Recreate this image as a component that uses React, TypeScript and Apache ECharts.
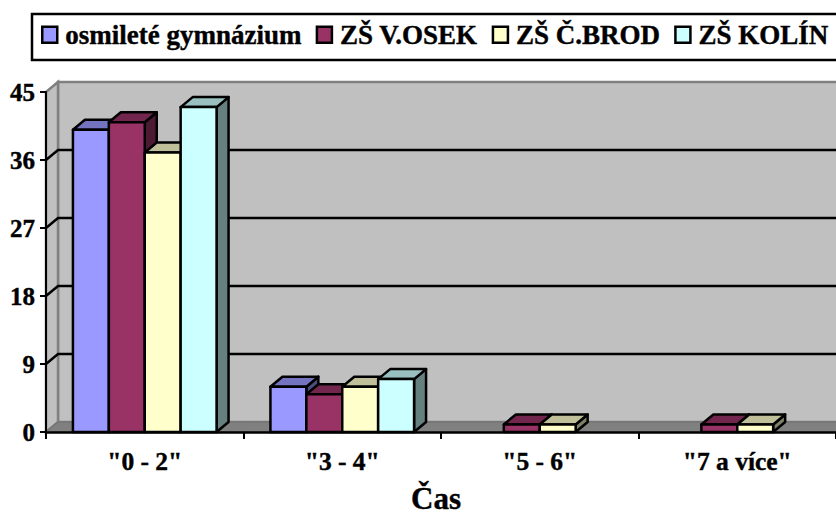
import React, { useEffect, useRef } from "react";
import * as echarts from "echarts";

const categories = ['"0 - 2"', '"3 - 4"', '"5 - 6"', '"7 a více"'];
const seriesNames = ["osmileté gymnázium", "ZŠ V.OSEK", "ZŠ Č.BROD", "ZŠ KOLÍN"];
const gymnazium = [40, 6, 0, 0];
const vosek = [41, 5, 1, 1];
const cbrod = [37, 6, 1, 1];
const kolin = [43, 7, 0, 0];
const seriesValues = [gymnazium, vosek, cbrod, kolin];
const yTicks = [0, 9, 18, 27, 36, 45];
const frontColors = ["#9999FF", "#993366", "#FFFFCC", "#CCFFFF"];
const topColors = ["#7373BF", "#73264D", "#BFBF99", "#99BFBF"];
const sideColors = ["#4D4D80", "#4D1A33", "#80806A", "#668080"];

const FONT = '"Liberation Serif"';
const HEAVY = { textBorderColor: "#000", textBorderWidth: 0.4 };
const DX = 12;
const DY = 10;
const BAR_FRACTION = 2 / 11;
const EDGE = { stroke: "#000", lineWidth: 2.5, lineJoin: "round" as const };

function renderWalls(_params: any, api: any) {
  const [x0, y0] = api.coord([0, 0]);
  const bandW = api.size([1, 0])[0];
  const xStart = x0 - bandW / 2;
  const xEnd = xStart + bandW * categories.length;
  const yTop = api.coord([0, 45])[1];
  const children: any[] = [
    { type: "rect", shape: { x: xStart + DX, y: yTop - DY, width: xEnd - xStart, height: y0 - yTop }, style: { fill: "#C0C0C0", stroke: "#808080", lineWidth: 2.5 } },
    { type: "polygon", shape: { points: [[xStart, yTop], [xStart + DX, yTop - DY], [xStart + DX, y0 - DY], [xStart, y0]] }, style: { fill: "#C0C0C0", stroke: "#808080", lineWidth: 2.5 } },
    { type: "polygon", shape: { points: [[xStart, y0], [xStart + DX, y0 - DY], [xEnd + DX, y0 - DY], [xEnd, y0]] }, style: { fill: "#808080", stroke: "#6E6E6E", lineWidth: 1 } },
  ];
  yTicks.forEach((t) => {
    if (t === 0 || t === 45) return;
    const y = api.coord([0, t])[1];
    children.push({
      type: "polyline",
      shape: { points: [[xStart, y], [xStart + DX, y - DY], [xEnd + DX, y - DY]] },
      style: { fill: "none", stroke: "#000", lineWidth: 2.5 },
    });
  });
  return { type: "group", children };
}

function makeBarRenderer(seriesIndex: number) {
  return (_params: any, api: any) => {
    const cat = api.value(0);
    const val = api.value(1);
    if (!val) return { type: "group", children: [] };
    const [cx, yT] = api.coord([cat, val]);
    const yB = api.coord([cat, 0])[1];
    const w = api.size([1, 0])[0] * BAR_FRACTION;
    const xL = cx + (seriesIndex - 2) * w;
    const xR = xL + w;
    return {
      type: "group",
      children: [
        { type: "polygon", shape: { points: [[xR, yT], [xR + DX, yT - DY], [xR + DX, yB - DY], [xR, yB]] }, style: { fill: sideColors[seriesIndex], ...EDGE } },
        { type: "polygon", shape: { points: [[xL, yT], [xL + DX, yT - DY], [xR + DX, yT - DY], [xR, yT]] }, style: { fill: topColors[seriesIndex], ...EDGE } },
        { type: "rect", shape: { x: xL, y: yT, width: w, height: yB - yT }, style: { fill: frontColors[seriesIndex], ...EDGE } },
      ],
    };
  };
}

export default function App() {
  const ref = useRef<HTMLDivElement>(null);
  useEffect(() => {
    const chart = echarts.init(ref.current!, null, { renderer: "svg" });
    chart.setOption({
      animation: false,
      backgroundColor: "#fff",
      title: {
        text: "Čas",
        left: 411,
        top: 487,
        padding: 0,
        textStyle: { fontFamily: FONT, fontWeight: "bold", fontSize: 31, lineHeight: 23, color: "#000", ...HEAVY },
      },
      legend: {
        left: 41,
        top: 21,
        padding: 0,
        itemWidth: 15,
        itemHeight: 16,
        itemGap: 14,
        width: 1200,
        selectedMode: false,
        icon: "rect",
        textStyle: { fontFamily: FONT, fontWeight: "bold", fontSize: 27, color: "#000", padding: [0, 0, 0, 3], ...HEAVY },
        data: seriesNames.map((name, i) => ({
          name,
          itemStyle: { color: frontColors[i], borderColor: "#000", borderWidth: 2.5 },
        })),
      },
      graphic: [
        {
          type: "rect",
          z: -1,
          shape: { x: 32, y: 14, width: 900, height: 46 },
          style: { fill: "#fff", stroke: "#000", lineWidth: 2.5 },
        },
      ],
      grid: { left: 46, right: -2, top: 92, bottom: 81 },
      xAxis: {
        type: "category",
        data: categories,
        z: 10,
        axisLine: { lineStyle: { color: "#000", width: 2.5 } },
        axisTick: { show: true, alignWithLabel: false, length: 7, lineStyle: { color: "#000", width: 2 } },
        axisLabel: { margin: 16, interval: 0, fontFamily: FONT, fontWeight: "bold", fontSize: 25.5, color: "#000", ...HEAVY },
      },
      yAxis: {
        type: "value",
        min: 0,
        max: 45,
        interval: 9,
        z: 10,
        splitLine: { show: false },
        axisLine: { show: true, lineStyle: { color: "#000", width: 2 } },
        axisTick: { show: true, length: 6, lineStyle: { color: "#000", width: 2 } },
        axisLabel: { margin: 11, fontFamily: FONT, fontWeight: "bold", fontSize: 25, color: "#000", ...HEAVY },
      },
      series: [
        {
          type: "custom",
          silent: true,
          z: 1,
          renderItem: renderWalls,
          data: [[0, 0]],
          encode: { x: 0, y: 1 },
        },
        ...seriesNames.map((name, i) => ({
          type: "custom",
          name,
          z: 2 + i,
          clip: false,
          itemStyle: { color: frontColors[i] },
          renderItem: makeBarRenderer(i),
          encode: { x: 0, y: 1 },
          data: seriesValues[i].map((v, c) => [c, v]),
        })),
      ],
    });
    return () => chart.dispose();
  }, []);
  return <div ref={ref} style={{ position: "absolute", left: 0, top: 0, width: 836, height: 513 }} />;
}
